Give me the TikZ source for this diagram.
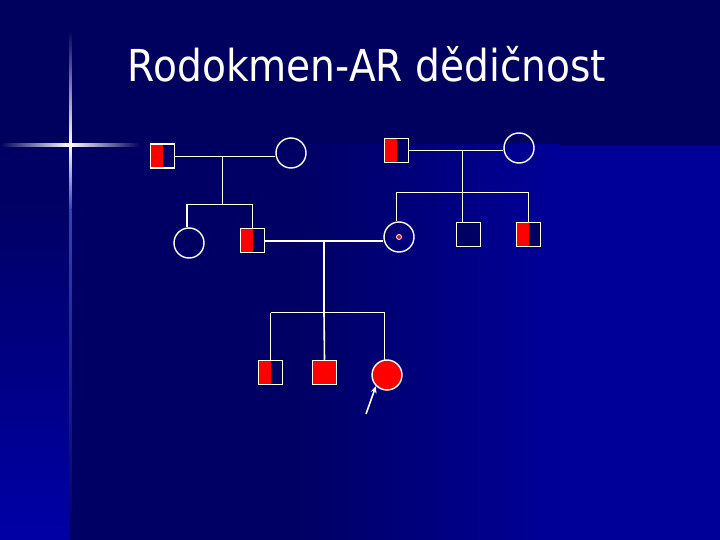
\documentclass[tikz,border=0pt]{standalone}
\usepackage{fontspec}
\setmainfont{DejaVu Sans}
\usetikzlibrary{arrows.meta}
\definecolor{navy}{RGB}{0,0,100}
\definecolor{topnavy}{RGB}{0,0,94}
\definecolor{bblue}{RGB}{0,0,152}
\definecolor{sblue}{RGB}{0,0,165}
\definecolor{flare}{RGB}{90,140,255}
\definecolor{pedred}{RGB}{255,0,0}
\begin{document}
\begin{tikzpicture}[x=1pt,y=-1pt,
  conn/.style={draw=white, line width=1.6pt},
  sq/.style={rectangle, draw=white, line width=1.5pt, minimum size=24pt, inner sep=0pt, fill=navy},
  half/.style={sq, path picture={\fill[pedred] (path picture bounding box.south west) rectangle (path picture bounding box.north);}},
  full/.style={sq, fill=pedred},
  ci/.style={circle, draw=white, line width=1.4pt, minimum size=30pt, inner sep=0pt},
  fci/.style={ci, fill=pedred},
  title/.style={text=white, font=\fontsize{44}{50}\selectfont, inner sep=0pt, anchor=base}
]
\useasboundingbox (0,0) rectangle (720,540);
% background
\fill[topnavy] (0,0) rectangle (720,145);
\fill[navy] (70,145) rectangle (300,540);
\shade[left color=navy, right color=bblue] (300,145) rectangle (560,540);
\fill[bblue] (560,145) rectangle (720,540);
\fill[navy] (0,145) rectangle (70,200);
\shade[top color=navy, bottom color=sblue] (0,200) rectangle (70,540);
% flare
\shade[left color=topnavy, right color=white] (0,144) rectangle (70,146.5);
\shade[left color=white, right color=topnavy] (70,144) rectangle (140,146.5);
\shade[top color=topnavy, bottom color=white] (69,30) rectangle (71.3,145);
\shade[top color=white, bottom color=flare!50!navy] (69,145) rectangle (71.3,210);
\shade[top color=flare!50!navy, bottom color=navy] (69,210) rectangle (71.3,540);
% title
\node[title] (t) at (367,82) {\scalebox{0.89}[1]{Rodokmen-AR dědičnost}};
% generation I
\node[half] (a1) at (162.5,156) {};
\node[ci]   (a2) at (291,153) {};
\node[half] (b1) at (396.5,150.5) {};
\node[ci]   (b2) at (519,148) {};
% generation II
\node[ci]   (c1) at (189,243) {};
\node[half] (c2) at (252.5,240.5) {};
\node[ci]   (d1) at (399,237) {};
\node[sq]   (d2) at (468.5,234.5) {};
\node[half] (d3) at (528.5,234.5) {};
\node[circle, fill=pedred, draw=white, line width=0.8pt, minimum size=5pt, inner sep=0pt] (dot) at (399,237) {};
% generation III
\node[half] (e1) at (270.5,372.5) {};
\node[full] (e2) at (324.5,372.5) {};
\node[fci]  (e3) at (387,375) {};
% junction coordinates
\coordinate (m1) at (222.5,156.5);
\coordinate (s1) at (222.5,204.5);
\coordinate (m2) at (462.5,150.5);
\coordinate (s2) at (462.5,192.5);
\coordinate (m3) at (324,241);
\coordinate (s3) at (324,312.5);
\coordinate (ar) at (366,414);
% connectors
\draw[conn] (a1.east |- m1) -- (a2.west |- m1);
\draw[conn] (m1) -- (s1);
\draw[conn] (c1.north -| 187,0) |- (c2.north |- s1) -- (c2.north);
\draw[conn] (b1.east |- m2) -- (b2.west |- m2);
\draw[conn] (m2) -- (s2);
\draw[conn] (d1.north -| 396.5,0) |- (d3.north |- s2) -- (d3.north);
\draw[conn] (s2) -- (s2 |- d2.north);
\draw[conn] (c2.east |- m3) -- (d1.west |- m3);
\draw[conn] (m3) -- (s3);
\draw[conn] (e1.north |- s3) -- (e1.north);
\draw[conn] (e1.north |- s3) -- (384.5,312.5) -- (384.5,360);
\draw[conn] (s3) -- (e2.north);
\draw[conn, -{Stealth[length=7pt,width=6pt]}] (ar) -- (e3.south west);
\end{tikzpicture}
\end{document}
